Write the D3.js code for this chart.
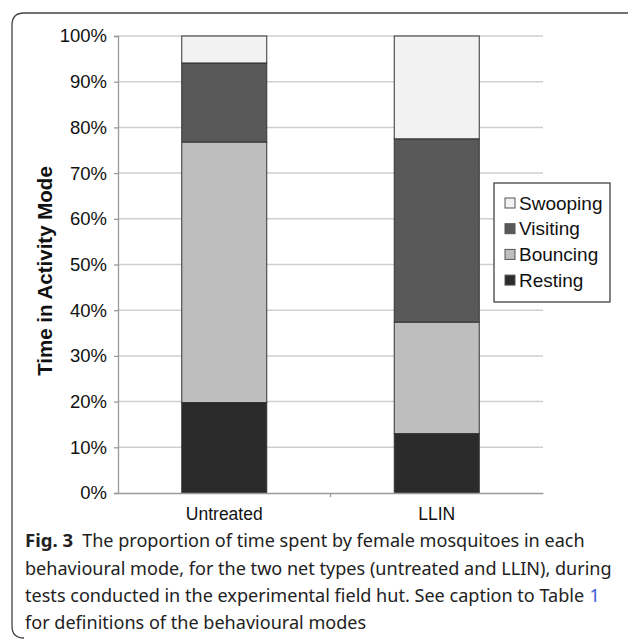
<!DOCTYPE html>
<html><head><meta charset="utf-8">
<script src="https://cdn.jsdelivr.net/npm/d3@7"></script>
<style>body{margin:0;background:#fff}svg{display:block}
.ar{font-family:'Liberation Sans',Arial,sans-serif}
.cap{font-family:'Noto Sans','Open Sans',sans-serif}</style>
</head><body>
<svg id="c" width="630" height="639"></svg>
<script>
const categories = ["Untreated", "LLIN"];
const seriesNames = ["Resting", "Bouncing", "Visiting", "Swooping"];
const resting = [19.8, 13.0];
const bouncing = [57.0, 24.4];
const visiting = [17.3, 40.1];
const swooping = [5.9, 22.5];
const yTicks = [0, 10, 20, 30, 40, 50, 60, 70, 80, 90, 100];
const legendOrder = ["Swooping", "Visiting", "Bouncing", "Resting"];
const colors = {Resting: "#2b2b2b", Bouncing: "#bebebe", Visiting: "#595959", Swooping: "#f2f2f2"};
const captionBold = "Fig. 3";
const captionLines = [
  "The proportion of time spent by female mosquitoes in each",
  "behavioural mode, for the two net types (untreated and LLIN), during",
  "tests conducted in the experimental field hut. See caption to Table",
  "for definitions of the behavioural modes"
];
const captionLink = "1";

const svg = d3.select("#c");
const L = 118, R = 543, T = 36, B = 493;
const x = d3.scaleBand().domain(categories).range([L, R]).paddingInner(0.6).paddingOuter(0.3);
const y = d3.scaleLinear().domain([0, 100]).range([B, T]);

// frame
svg.append("path").attr("d", "M628,13 L24,13 Q12,13 12,25 L12,626 Q12,638 24,638")
  .attr("fill", "none").attr("stroke", "#444").attr("stroke-width", 1.3);

// gridlines
svg.append("g").selectAll("line").data(yTicks.filter(d => d > 0)).join("line")
  .attr("x1", L).attr("x2", R).attr("y1", d => y(d)).attr("y2", d => y(d))
  .attr("stroke", "#cfcfcf").attr("stroke-width", 1.5);

// y axis
const ya = svg.append("g").attr("transform", `translate(${L},0)`)
  .call(d3.axisLeft(y).tickValues(yTicks).tickFormat(d => d + "%").tickSize(4).tickPadding(7));
ya.attr("font-family", null).attr("font-size", null);
ya.select(".domain").attr("stroke", "#9a9a9a").attr("stroke-width", 1.3);
ya.selectAll(".tick line").attr("stroke", "#9a9a9a").attr("stroke-width", 1.3);
ya.selectAll("text").attr("class", "ar").style("font-size", "18.5px").attr("fill", "#111");

// stacked data
const table = categories.map((c, i) => ({cat: c, Resting: resting[i], Bouncing: bouncing[i], Visiting: visiting[i], Swooping: swooping[i]}));
const stack = d3.stack().keys(seriesNames)(table);
svg.append("g").selectAll("g").data(stack).join("g").attr("fill", d => colors[d.key])
  .selectAll("rect").data(d => d).join("rect")
  .attr("x", d => x(d.data.cat)).attr("width", x.bandwidth())
  .attr("y", d => y(d[1])).attr("height", d => y(d[0]) - y(d[1]))
  .attr("stroke", "#333").attr("stroke-width", 1);

// x axis
const xa = svg.append("g").attr("transform", `translate(0,${B})`)
  .call(d3.axisBottom(x).tickSize(0).tickPadding(15));
xa.attr("font-family", null).attr("font-size", null);
xa.select(".domain").attr("stroke", "#9a9a9a").attr("stroke-width", 1.3);
xa.selectAll("text").attr("class", "ar").style("font-size", "17.5px").attr("fill", "#111");
svg.append("line").attr("x1", (L + R) / 2).attr("x2", (L + R) / 2).attr("y1", B).attr("y2", B + 4)
  .attr("stroke", "#9a9a9a").attr("stroke-width", 1.3);

// y label
svg.append("text").attr("class", "ar").attr("transform", "translate(52,271) rotate(-90)").attr("text-anchor", "middle")
  .style("font-weight", "bold").style("font-size", "20.5px")
  .attr("fill", "#111").text("Time in Activity Mode");

// legend
const lg = svg.append("g");
lg.append("rect").attr("x", 494).attr("y", 183).attr("width", 116).attr("height", 119)
  .attr("fill", "#fff").attr("stroke", "#333").attr("stroke-width", 1.2);
const li = lg.selectAll("g.it").data(legendOrder).join("g").attr("class", "it")
  .attr("transform", (d, i) => `translate(0,${203 + i * 25.7})`);
li.append("rect").attr("x", 505).attr("y", -5).attr("width", 10).attr("height", 10)
  .attr("fill", d => colors[d]).attr("stroke", "#555").attr("stroke-width", 1);
li.append("text").attr("class", "ar").attr("x", 519).attr("y", 6.5)
  .style("font-size", "19px").attr("fill", "#111").text(d => d);

// caption: size chosen so the longest line spans the same width as in the reference
const capY = [547, 574.5, 602, 629];
const probe = svg.append("text").attr("class", "cap").style("font-size", "20px").text(captionLines[1]);
const capSize = Math.min(19, 20 * 587 / probe.node().getComputedTextLength());
probe.remove();
const fig = svg.append("text").attr("class", "cap").attr("x", 25).attr("y", capY[0]).style("font-weight", "bold")
  .style("font-size", capSize + 0.5 + "px").attr("fill", "#222").text(captionBold);
const figEnd = 25 + fig.node().getComputedTextLength();
captionLines.forEach((t, i) => {
  const tx = svg.append("text").attr("class", "cap").attr("x", i === 0 ? figEnd + 9 : 25).attr("y", capY[i])
    .style("font-size", capSize + "px").attr("fill", "#222").text(t);
  if (i === 2) {
    const end = 25 + tx.node().getComputedTextLength();
    svg.append("text").attr("class", "cap").attr("x", end + capSize * 0.3).attr("y", capY[i])
      .style("font-size", capSize + "px").attr("fill", "#3b5bdb").text(captionLink);
  }
});
</script>
</body></html>
